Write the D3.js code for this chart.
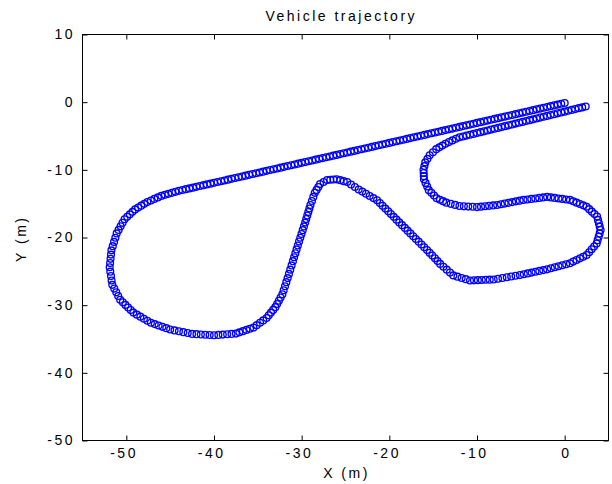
<!DOCTYPE html>
<html>
<head>
<meta charset="utf-8">
<script src="https://cdn.jsdelivr.net/npm/d3@7"></script>
<style>
  html, body { margin: 0; padding: 0; background: #fff; }
  svg { display: block; }
  text { font-family: "Liberation Sans", Arial, Helvetica, sans-serif; fill: #000; }
</style>
</head>
<body>
<svg id="chart" width="612" height="484"></svg>
<script>
// Vehicle trajectory samples (x, y in metres), in driving order.
// Long straight run heading west from the origin.
const upperRun = [
  [0,-0.12],[-0.4,-0.24],[-0.8,-0.36],[-1.2,-0.47],[-1.6,-0.59],[-2,-0.71],[-2.4,-0.83],[-2.8,-0.95],[-3.2,-1.06],[-3.6,-1.18],
  [-4,-1.30],[-4.4,-1.42],[-4.8,-1.54],[-5.2,-1.65],[-5.6,-1.77],[-6,-1.89],[-6.4,-2.01],[-6.8,-2.13],[-7.2,-2.24],[-7.6,-2.36],
  [-8,-2.48],[-8.4,-2.60],[-8.8,-2.72],[-9.2,-2.83],[-9.6,-2.95],[-10,-3.07],[-10.4,-3.19],[-10.8,-3.31],[-11.2,-3.42],[-11.6,-3.54],
  [-12,-3.66],[-12.4,-3.78],[-12.8,-3.90],[-13.2,-4.01],[-13.6,-4.13],[-14,-4.25],[-14.4,-4.37],[-14.8,-4.49],[-15.2,-4.60],[-15.6,-4.72],
  [-16,-4.84],[-16.4,-4.96],[-16.8,-5.08],[-17.2,-5.19],[-17.6,-5.31],[-18,-5.43],[-18.4,-5.55],[-18.8,-5.67],[-19.2,-5.78],[-19.6,-5.90],
  [-20,-6.02],[-20.4,-6.14],[-20.8,-6.26],[-21.2,-6.37],[-21.6,-6.49],[-22,-6.61],[-22.4,-6.73],[-22.8,-6.85],[-23.2,-6.96],[-23.6,-7.08],
  [-24,-7.20],[-24.4,-7.32],[-24.8,-7.44],[-25.2,-7.55],[-25.6,-7.67],[-26,-7.79],[-26.4,-7.91],[-26.8,-8.03],[-27.2,-8.14],[-27.6,-8.26],
  [-28,-8.38],[-28.4,-8.50],[-28.8,-8.62],[-29.2,-8.73],[-29.6,-8.85],[-30,-8.97],[-30.4,-9.09],[-30.8,-9.21],[-31.2,-9.32],[-31.6,-9.44],
  [-32,-9.56],[-32.4,-9.68],[-32.8,-9.80],[-33.2,-9.91],[-33.6,-10.03],[-34,-10.15],[-34.4,-10.27],[-34.8,-10.39],[-35.2,-10.50],[-35.6,-10.62],
  [-36,-10.74],[-36.4,-10.86],[-36.8,-10.98],[-37.2,-11.09],[-37.6,-11.21],[-38,-11.33],[-38.4,-11.45],[-38.8,-11.57],[-39.2,-11.68],[-39.6,-11.80],
  [-40,-11.92],[-40.4,-12.04],[-40.8,-12.16],[-41.2,-12.27],[-41.6,-12.39],[-42,-12.51],[-42.4,-12.63],[-42.8,-12.75],[-43.2,-12.86],[-43.6,-12.98],
  [-44,-13.10]
];

// Wide turn at the western end of the track.
const westLoop = [
  [-44.4,-13.25],[-44.8,-13.40],[-45.2,-13.55],[-45.6,-13.70],[-46.0,-13.85],
  [-46.4,-14.08],[-46.8,-14.30],[-47.2,-14.53],[-47.6,-14.75],
  [-47.95,-15.03],[-48.3,-15.30],[-48.65,-15.58],[-49.0,-15.85],
  [-49.3,-16.21],[-49.6,-16.58],[-49.9,-16.94],[-50.2,-17.3],
  [-50.43,-17.83],[-50.65,-18.35],[-50.88,-18.88],[-51.1,-19.4],
  [-51.25,-20.03],[-51.4,-20.65],[-51.55,-21.28],[-51.7,-21.9],
  [-51.75,-22.53],[-51.8,-23.15],[-51.85,-23.78],[-51.9,-24.4],
  [-51.83,-25.05],[-51.75,-25.7],[-51.68,-26.35],[-51.6,-27.0],
  [-51.38,-27.55],[-51.15,-28.1],[-50.93,-28.65],[-50.7,-29.2],
  [-50.4,-29.58],[-50.1,-29.96],[-49.8,-30.34],[-49.5,-30.72],[-49.2,-31.1],
  [-48.8,-31.4],[-48.4,-31.7],[-48.0,-32.0],[-47.6,-32.3],[-47.2,-32.6],
  [-46.76,-32.8],[-46.32,-33.0],[-45.88,-33.2],[-45.44,-33.4],[-45.0,-33.6],
  [-44.5,-33.73],[-44.0,-33.86],[-43.5,-33.99],[-43.0,-34.12],[-42.5,-34.25],
  [-42.0,-34.29],[-41.5,-34.33],[-41.0,-34.37],[-40.5,-34.41],[-40.0,-34.45],
  [-39.5,-34.4],[-39.0,-34.35],[-38.5,-34.3],[-38.0,-34.25],[-37.5,-34.2],
  [-37.1,-34.02],[-36.7,-33.84],[-36.3,-33.66],[-35.9,-33.48],[-35.5,-33.3],
  [-35.13,-32.95],[-34.75,-32.6],[-34.38,-32.25],[-34.0,-31.9],
  [-33.75,-31.5],[-33.5,-31.1],[-33.25,-30.7],[-33.0,-30.3],
  [-32.8,-29.83],[-32.6,-29.35],[-32.4,-28.88],[-32.2,-28.4],
  [-32.05,-27.8],[-31.9,-27.2],[-31.75,-26.6],[-31.6,-26.0]
];

// Climb north, hairpin over the crest, then the long diagonal south-east.
const hairpin = [
  [-31.45,-25.38],[-31.3,-24.75],[-31.15,-24.13],[-31.0,-23.5],
  [-30.86,-22.92],[-30.72,-22.34],[-30.58,-21.76],[-30.44,-21.18],[-30.3,-20.6],
  [-30.16,-20.04],[-30.02,-19.48],[-29.88,-18.92],[-29.74,-18.36],[-29.6,-17.8],
  [-29.48,-17.28],[-29.36,-16.76],[-29.24,-16.24],[-29.12,-15.72],[-29.0,-15.2],
  [-28.83,-14.6],[-28.67,-14.0],[-28.5,-13.4],
  [-28.3,-12.97],[-28.1,-12.53],[-27.9,-12.1],
  [-27.5,-11.8],[-27.1,-11.5],
  [-26.73,-11.47],[-26.37,-11.43],[-26.0,-11.4],
  [-25.6,-11.53],[-25.2,-11.67],[-24.8,-11.8],
  [-24.37,-12.17],[-23.93,-12.53],[-23.5,-12.9],
  [-23.08,-13.22],[-22.66,-13.54],[-22.24,-13.86],[-21.82,-14.18],[-21.4,-14.5],
  [-21.08,-14.91],[-20.77,-15.32],[-20.45,-15.73],[-20.13,-16.13],[-19.82,-16.54],[-19.5,-16.95],
  [-19.18,-17.36],[-18.87,-17.77],[-18.55,-18.18],[-18.23,-18.58],[-17.92,-18.99],[-17.6,-19.4],
  [-17.28,-19.81],[-16.97,-20.22],[-16.65,-20.62],[-16.33,-21.03],[-16.02,-21.44],[-15.7,-21.85],
  [-15.4,-22.26],[-15.1,-22.67],[-14.8,-23.08],[-14.5,-23.49],[-14.2,-23.9],
  [-13.83,-24.33],[-13.45,-24.75],[-13.08,-25.18],[-12.7,-25.6]
];

// Eastern loop and the tight turn back onto the return straight.
const eastLoop = [
  [-12.23,-25.79],[-11.75,-25.98],[-11.28,-26.16],[-10.8,-26.35],
  [-10.35,-26.33],[-9.9,-26.3],[-9.45,-26.28],[-9.0,-26.25],[-8.55,-26.23],[-8.1,-26.2],
  [-7.6,-26.09],[-7.1,-25.98],[-6.6,-25.88],[-6.1,-25.77],[-5.6,-25.66],[-5.1,-25.55],
  [-4.66,-25.43],[-4.21,-25.31],[-3.77,-25.19],[-3.33,-25.06],[-2.89,-24.94],[-2.44,-24.82],[-2.0,-24.7],
  [-1.57,-24.55],[-1.13,-24.4],[-0.7,-24.25],[-0.27,-24.1],[0.17,-23.95],[0.6,-23.8],
  [0.98,-23.56],[1.36,-23.32],[1.74,-23.08],[2.12,-22.84],[2.5,-22.6],
  [2.79,-22.18],[3.08,-21.75],[3.36,-21.33],[3.65,-20.9],
  [3.76,-20.4],[3.88,-19.9],[3.99,-19.4],[4.1,-18.9],
  [4.0,-18.4],[3.9,-17.9],[3.8,-17.4],[3.7,-16.9],
  [3.4,-16.54],[3.1,-16.18],[2.8,-15.81],[2.5,-15.45],
  [2.12,-15.25],[1.74,-15.05],[1.36,-14.85],[0.98,-14.65],[0.6,-14.45],
  [0.17,-14.38],[-0.27,-14.3],[-0.7,-14.23],[-1.13,-14.15],[-1.57,-14.08],[-2.0,-14.0],
  [-2.45,-14.08],[-2.9,-14.15],[-3.35,-14.23],[-3.8,-14.3],[-4.25,-14.38],[-4.7,-14.45],
  [-5.13,-14.56],[-5.56,-14.66],[-5.99,-14.77],[-6.41,-14.88],[-6.84,-14.99],[-7.27,-15.09],[-7.7,-15.2],
  [-8.16,-15.26],[-8.62,-15.32],[-9.08,-15.38],[-9.54,-15.44],[-10.0,-15.5],
  [-10.5,-15.46],[-11.0,-15.43],[-11.5,-15.39],[-12.0,-15.35],
  [-12.5,-15.18],[-13.0,-15.02],[-13.5,-14.85],
  [-13.87,-14.63],[-14.23,-14.42],[-14.6,-14.2],
  [-14.9,-13.8],[-15.2,-13.4],[-15.5,-13.0],
  [-15.68,-12.47],[-15.87,-11.93],[-16.05,-11.4],
  [-16.07,-10.93],[-16.08,-10.47],[-16.1,-10.0],
  [-16.0,-9.45],[-15.9,-8.9],
  [-15.65,-8.38],[-15.4,-7.85],
  [-15.03,-7.4],[-14.65,-6.95],
  [-14.3,-6.68],[-13.95,-6.42],[-13.6,-6.15],
  [-13.2,-5.9],[-12.8,-5.65],[-12.4,-5.4]
];

// Return straight back towards the start.
const returnRun = [
  [-12.0,-5.19],[-11.6,-5.07],[-11.2,-4.94],[-10.8,-4.81],[-10.4,-4.69],[-10.0,-4.56],[-9.6,-4.43],[-9.2,-4.31],
  [-8.8,-4.18],[-8.4,-4.05],[-8.0,-3.93],[-7.6,-3.80],[-7.2,-3.68],[-6.8,-3.55],[-6.4,-3.42],[-6.0,-3.30],
  [-5.6,-3.17],[-5.2,-3.04],[-4.8,-2.92],[-4.4,-2.79],[-4.0,-2.66],[-3.6,-2.54],[-3.2,-2.41],[-2.8,-2.28],
  [-2.4,-2.16],[-2.0,-2.03],[-1.6,-1.91],[-1.2,-1.78],[-0.8,-1.65],[-0.4,-1.53],[0.0,-1.40],[0.4,-1.27],
  [0.8,-1.15],[1.2,-1.02],[1.6,-0.89],[2.0,-0.77],[2.4,-0.64]
];

const xTicks = [-50, -40, -30, -20, -10, 0];
const yTicks = [-50, -40, -30, -20, -10, 0, 10];
const xDomain = [-55, 5];
const yDomain = [-50, 10];
const titleText = "Vehicle trajectory";
const xLabel = "X (m)";
const yLabel = "Y (m)";

const trajectory = [].concat(upperRun, westLoop, hairpin, eastLoop, returnRun);

const svg = d3.select("#chart");
const plotLeft = 82.5, plotRight = 608.5, plotTop = 34.5, plotBottom = 440.5;
const fontSize = "14px";
const spacing = "2.5px";

const x = d3.scaleLinear().domain(xDomain).range([plotLeft, plotRight]);
const y = d3.scaleLinear().domain(yDomain).range([plotBottom, plotTop]);

// Markers: open circles, drawn in sample order
svg.append("g")
  .selectAll("circle")
  .data(trajectory)
  .join("circle")
  .attr("cx", d => x(d[0]))
  .attr("cy", d => y(d[1]))
  .attr("r", 3.4)
  .attr("fill", "none")
  .attr("stroke", "#0000ff")
  .attr("stroke-width", 1.35);

// Axes with inward ticks on all four sides
const fmt = d => String(d);
const styleAxis = g => {
  g.select(".domain").remove();
  g.selectAll(".tick line").attr("stroke", "#000").attr("stroke-width", 1);
  g.selectAll(".tick text")
    .style("font-size", fontSize)
    .style("letter-spacing", spacing)
    .attr("fill", "#000");
};

svg.append("g")
  .attr("transform", `translate(0,${plotBottom})`)
  .call(d3.axisBottom(x).tickValues(xTicks).tickSize(-5).tickSizeOuter(0).tickPadding(7.5).tickFormat(fmt))
  .call(styleAxis)
  .call(g => g.selectAll(".tick text").attr("dx", d => d < 0 ? -2.8 : 1.25));

svg.append("g")
  .attr("transform", `translate(0,${plotTop})`)
  .call(d3.axisTop(x).tickValues(xTicks).tickSize(-5).tickSizeOuter(0).tickFormat(""))
  .call(styleAxis);

svg.append("g")
  .attr("transform", `translate(${plotLeft},0)`)
  .call(d3.axisLeft(y).tickValues(yTicks).tickSize(-5).tickSizeOuter(0).tickPadding(7.5).tickFormat(fmt))
  .call(styleAxis);

svg.append("g")
  .attr("transform", `translate(${plotRight},0)`)
  .call(d3.axisRight(y).tickValues(yTicks).tickSize(-5).tickSizeOuter(0).tickFormat(""))
  .call(styleAxis);

// Plot frame
svg.append("rect")
  .attr("x", plotLeft).attr("y", plotTop)
  .attr("width", plotRight - plotLeft).attr("height", plotBottom - plotTop)
  .attr("fill", "none").attr("stroke", "#000").attr("stroke-width", 1);

// Title and axis labels
svg.append("text")
  .attr("x", 341.25).attr("y", 20.7)
  .attr("text-anchor", "middle")
  .style("font-size", fontSize).style("letter-spacing", spacing)
  .text(titleText);

svg.append("text")
  .attr("x", 346.5).attr("y", 478)
  .attr("text-anchor", "middle")
  .style("font-size", fontSize).style("letter-spacing", spacing)
  .text(xLabel);

svg.append("text")
  .attr("transform", `translate(26,${(plotTop + plotBottom) / 2 + 1.25}) rotate(-90)`)
  .attr("text-anchor", "middle")
  .style("font-size", fontSize).style("letter-spacing", spacing)
  .text(yLabel);
</script>
</body>
</html>
